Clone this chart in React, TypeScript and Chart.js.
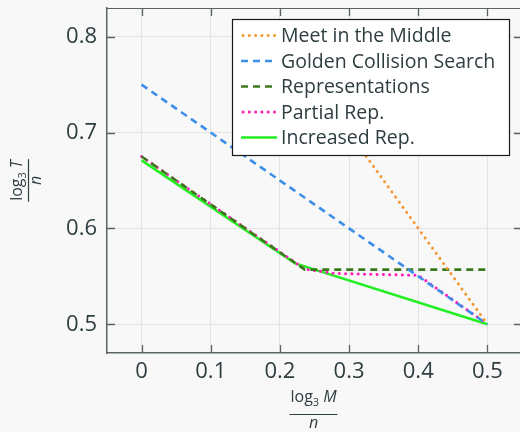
import { useEffect, useRef } from "react";
import { Chart, registerables } from "chart.js";

Chart.register(...registerables);

// ---- data ----
const seriesNames = [
  "Meet in the Middle",
  "Golden Collision Search",
  "Representations",
  "Partial Rep.",
  "Increased Rep.",
];
const mitmX = [0.25, 0.5];
const mitmY = [0.75, 0.5];
const gcsX = [0, 0.5];
const gcsY = [0.75, 0.5];
const repX = [0, 0.236, 0.5];
const repY = [0.675, 0.557, 0.557];
const partialX = [0, 0.236, 0.28, 0.4, 0.5];
const partialY = [0.675, 0.5575, 0.553, 0.551, 0.5];
const incX = [0, 0.222, 0.5];
const incY = [0.671, 0.5635, 0.5];

const xTicks = [0, 0.1, 0.2, 0.3, 0.4, 0.5];
const xTickLabels = ["0", "0.1", "0.2", "0.3", "0.4", "0.5"];
const yTicks = [0.5, 0.6, 0.7, 0.8];
const yTickLabels = ["0.5", "0.6", "0.7", "0.8"];

const colors = ["#f39a35", "#3c8ee6", "#3b7a1c", "#ff1fb8", "#22ee22"];
const dashes = [[0.1, 6.2], [7, 5], [7, 5], [0.1, 6.2], []];
const caps: ("round" | "butt")[] = ["round", "butt", "butt", "round", "butt"];
const widths = [3, 2.6, 2.6, 3, 2.6];

const FONT = "'Open Sans', 'DejaVu Sans', sans-serif";
const TEXT = "#2e3d40";
const AXIS = "#5a6466";

function pts(xs: number[], ys: number[]) {
  return xs.map((x, i) => ({ x, y: ys[i] }));
}

const extrasPlugin = {
  id: "extras",
  afterDraw(chart: any) {
    const ctx = chart.ctx as CanvasRenderingContext2D;
    const { left, right, top, bottom } = chart.chartArea;
    const xs = chart.scales.x;
    const ys = chart.scales.y;
    ctx.save();
    // top border
    ctx.strokeStyle = AXIS;
    ctx.lineWidth = 1;
    ctx.beginPath();
    ctx.moveTo(left, top + 0.5);
    ctx.lineTo(right, top + 0.5);
    ctx.stroke();
    // inner ticks
    ctx.lineWidth = 1.3;
    const tl = 8;
    xTicks.forEach((v) => {
      const px = Math.round(xs.getPixelForValue(v)) + 0.5;
      ctx.beginPath();
      ctx.moveTo(px, bottom);
      ctx.lineTo(px, bottom - tl);
      ctx.moveTo(px, top);
      ctx.lineTo(px, top + tl);
      ctx.stroke();
    });
    yTicks.forEach((v) => {
      const py = Math.round(ys.getPixelForValue(v)) + 0.5;
      ctx.beginPath();
      ctx.moveTo(left, py);
      ctx.lineTo(left + tl, py);
      ctx.moveTo(right, py);
      ctx.lineTo(right - tl, py);
      ctx.stroke();
    });

    // legend
    const bx = 232.5, by = 19.5, bw = 277, bh = 136;
    ctx.fillStyle = "#ffffff";
    ctx.fillRect(bx, by, bw, bh);
    ctx.strokeStyle = "#1a1a1a";
    ctx.lineWidth = 1.2;
    ctx.strokeRect(bx, by, bw, bh);
    ctx.font = `19.5px ${FONT}`;
    ctx.textBaseline = "middle";
    ctx.textAlign = "left";
    seriesNames.forEach((name, i) => {
      const cy = 35.5 + i * 25.5;
      ctx.strokeStyle = colors[i];
      ctx.lineWidth = widths[i];
      ctx.lineCap = caps[i];
      ctx.setLineDash(dashes[i]);
      ctx.beginPath();
      ctx.moveTo(caps[i] === "round" ? 243 : 241, cy);
      ctx.lineTo(277, cy);
      ctx.stroke();
      ctx.setLineDash([]);
      ctx.lineCap = "butt";
      ctx.fillStyle = TEXT;
      ctx.fillText(name, 281, cy + 1);
    });

    // axis titles (fractions)
    const drawFrac = (cx: number, numBase: number, lineY: number, denBase: number, sym: string) => {
      ctx.fillStyle = TEXT;
      ctx.strokeStyle = TEXT;
      ctx.textBaseline = "alphabetic";
      ctx.textAlign = "left";
      const fMain = `16px ${FONT}`;
      const fSub = `11px ${FONT}`;
      const fIt = `italic 16px ${FONT}`;
      ctx.font = fMain;
      const wLog = ctx.measureText("log").width;
      ctx.font = fSub;
      const wSub = ctx.measureText("3").width;
      ctx.font = fIt;
      const wSym = ctx.measureText(sym).width;
      const gap = 4;
      const total = wLog + wSub + gap + wSym;
      const x0 = cx - total / 2;
      ctx.font = fMain;
      ctx.fillText("log", x0, numBase);
      ctx.font = fSub;
      ctx.fillText("3", x0 + wLog, numBase + 4);
      ctx.font = fIt;
      ctx.fillText(sym, x0 + wLog + wSub + gap, numBase);
      ctx.lineWidth = 1.2;
      ctx.beginPath();
      ctx.moveTo(x0 - 1, lineY);
      ctx.lineTo(x0 + total + 1, lineY);
      ctx.stroke();
      ctx.font = fIt;
      ctx.textAlign = "center";
      ctx.fillText("n", cx, denBase);
    };
    drawFrac((left + 520) / 2, 402, 414.5, 428, "M");
    ctx.save();
    ctx.translate(0, (top + bottom) / 2);
    ctx.rotate(-Math.PI / 2);
    drawFrac(0, 22, 28.5, 41, "T");
    ctx.restore();

    ctx.restore();
  },
};

export default function App() {
  const ref = useRef<HTMLCanvasElement>(null);
  useEffect(() => {
    if (!ref.current) return;
    const allX = [mitmX, gcsX, repX, partialX, incX];
    const allY = [mitmY, gcsY, repY, partialY, incY];
    const chart = new Chart(ref.current, {
      type: "line",
      data: {
        datasets: seriesNames.map((name, i) => ({
          label: name,
          data: pts(allX[i], allY[i]),
          borderColor: colors[i],
          backgroundColor: colors[i],
          borderWidth: widths[i],
          borderDash: dashes[i],
          borderCapStyle: caps[i],
          pointRadius: 0,
          tension: 0,
          fill: false,
        })),
      },
      options: {
        animation: false,
        responsive: false,
        events: [],
        layout: { padding: { top: 8, right: 0, left: 0, bottom: 0 } },
        plugins: { legend: { display: false }, tooltip: { enabled: false } },
        scales: {
          x: {
            type: "linear",
            min: -0.05,
            max: 0.55,
            afterBuildTicks: (s: any) => {
              s.ticks = xTicks.map((v) => ({ value: v }));
            },
            afterFit: (s: any) => {
              s.height = 79;
              s.paddingLeft = 0;
              s.paddingRight = 0;
            },
            grid: { color: "#e3e3e3", lineWidth: 1, drawTicks: false },
            border: { display: true, color: AXIS, width: 1.5 },
            ticks: {
              padding: 6,
              color: TEXT,
              font: { family: FONT, size: 22 },
              callback: (v: any) => {
                const i = xTicks.findIndex((t) => Math.abs(t - Number(v)) < 1e-9);
                return i >= 0 ? xTickLabels[i] : "";
              },
            },
          },
          y: {
            type: "linear",
            min: 0.47,
            max: 0.83,
            afterBuildTicks: (s: any) => {
              s.ticks = yTicks.map((v) => ({ value: v }));
            },
            afterFit: (s: any) => {
              s.width = 107;
              s.paddingTop = 0;
              s.paddingBottom = 0;
            },
            grid: { color: "#e3e3e3", lineWidth: 1, drawTicks: false },
            border: { display: true, color: AXIS, width: 1.5 },
            ticks: {
              padding: 10,
              color: TEXT,
              font: { family: FONT, size: 22 },
              callback: (v: any) => {
                const i = yTicks.findIndex((t) => Math.abs(t - Number(v)) < 1e-9);
                return i >= 0 ? yTickLabels[i] : "";
              },
            },
          },
        },
      },
      plugins: [extrasPlugin],
    });
    return () => chart.destroy();
  }, []);
  return (
    <div
      style={{
        position: "fixed",
        left: 0,
        top: 0,
        width: 520,
        height: 432,
        overflow: "hidden",
        background: "#f8f8f8",
      }}
    >
      <canvas ref={ref} width={522} height={432} style={{ display: "block" }} />
    </div>
  );
}
